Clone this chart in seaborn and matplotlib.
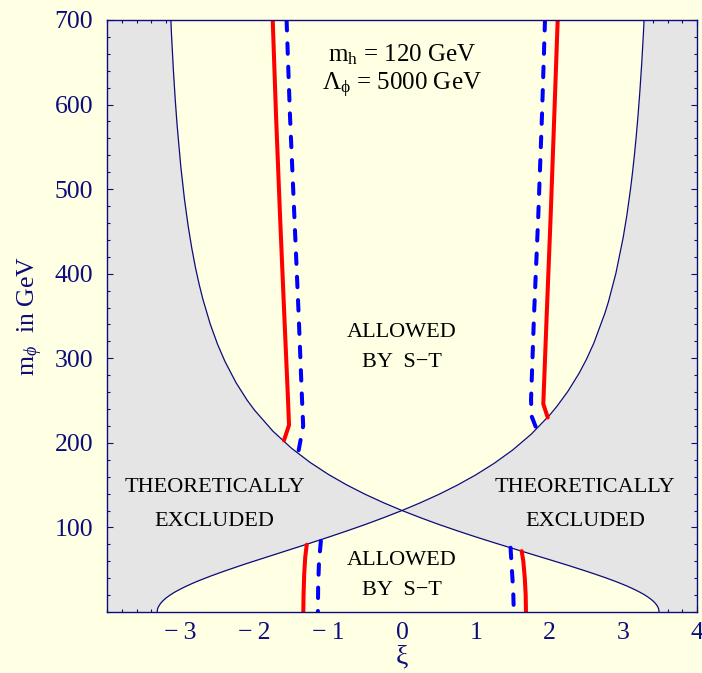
import matplotlib
matplotlib.use("Agg")
import matplotlib.pyplot as plt
import seaborn as sns
from matplotlib.ticker import MultipleLocator, FixedLocator, FixedFormatter

# ---------------- data ----------------
# theoretical boundary, upper branch (m_phi in GeV vs xi)
xi_upper = [-3.15, -3.125, -3.1, -3.075, -3.05, -3.0, -2.95, -2.9, -2.85, -2.8, -2.75, -2.7,
            -2.6, -2.5, -2.4, -2.25, -2.1, -2.0, -1.75, -1.5,
            -1.25, -1.0, -0.75, -0.5, -0.25, 0.0, 0.25, 0.5, 0.75, 1.0, 1.25, 1.5,
            1.75, 2.0, 2.1, 2.25, 2.4, 2.5, 2.6, 2.75, 2.8, 2.9, 3.0, 3.05, 3.1, 3.125,
            3.15, 3.175, 3.2, 3.225, 3.25, 3.275, 3.3]
m_upper = [731.9, 682.1, 640.8, 606.1, 576.3, 527.3, 488.4, 456.6, 430.0, 407.1, 387.3, 369.9,
           340.4, 316.4, 296.2, 271.1, 250.5, 238.7, 213.8, 193.8,
           177.1, 162.8, 150.3, 139.2, 129.2, 120.0, 129.2, 139.1, 150.0, 162.1, 175.8, 191.5,
           210.1, 232.6, 243.1, 261.0, 282.1, 298.6, 317.7, 353.0, 367.1, 400.4, 443.2, 469.7, 501.1, 519.2,
           539.1, 561.5, 586.6, 615.2, 648.1, 686.7, 732.7]

# theoretical boundary, lower branch
xi_lower = [-3.32, -3.315, -3.31, -3.3, -3.275, -3.25, -3.225, -3.2, -3.15, -3.125, -3.1, -3.075,
            -3.05, -3.0, -2.95, -2.9, -2.85, -2.8, -2.75, -2.7, -2.6, -2.5, -2.4,
            -2.25, -2.1, -2.0, -1.75, -1.5, -1.25, -1.0, -0.75, -0.5, -0.25, 0.0, 0.25, 0.5, 0.75,
            1.0, 1.25, 1.5, 1.75, 2.0, 2.1, 2.25, 2.4, 2.5, 2.6, 2.75, 2.8, 2.9, 3.0, 3.05, 3.1,
            3.125, 3.15, 3.175, 3.2, 3.225, 3.25, 3.275, 3.3, 3.35, 3.375, 3.4, 3.425, 3.45,
            3.46, 3.47, 3.48, 3.486]
m_lower = [0.0, 3.3, 4.7, 6.6, 10.0, 12.5, 14.6, 16.5, 19.7, 21.1, 22.5, 23.8,
           25.0, 27.3, 29.5, 31.5, 33.5, 35.4, 37.2, 38.9, 42.3, 45.5, 48.6,
           53.1, 57.5, 60.3, 67.3, 74.3, 81.3, 88.4, 95.8, 103.4, 111.5, 120.0, 111.5, 103.5, 96.0,
           88.8, 81.9, 75.2, 68.5, 61.9, 59.2, 55.2, 51.0, 48.2, 45.3, 40.8, 39.2, 36.0, 32.5, 30.7, 28.7,
           27.7, 26.7, 25.6, 24.5, 23.4, 22.2, 21.0, 19.65, 16.75, 15.1, 13.3, 11.2, 8.6,
           7.3, 5.8, 3.6, 0.0]

# S-T contours, solid red
red_ul_xi = [-1.753, -1.708, -1.654, -1.596, -1.546, -1.532, -1.600]
red_ul_m = [700, 587, 469, 351, 252, 221, 203]
red_ur_xi = [2.111, 2.065, 2.016, 1.962, 1.916, 1.976]
red_ur_m = [700, 587, 469, 351, 246, 230]
red_ll_xi = [-1.292, -1.312, -1.326, -1.335, -1.338]
red_ll_m = [79.5, 65, 45, 20, 0]
red_lr_xi = [1.623, 1.645, 1.665, 1.677, 1.681]
red_lr_m = [72, 60, 40, 20, 0]

# S-T contours, dashed blue
blue_ul_xi = [-1.565, -1.519, -1.460, -1.401, -1.356, -1.340, -1.406]
blue_ul_m = [700, 587, 469, 351, 252, 220, 189]
blue_ur_xi = [1.939, 1.898, 1.848, 1.790, 1.750, 1.755, 1.822]
blue_ur_m = [700, 587, 469, 351, 252, 232, 217]
blue_ll_xi = [-1.100, -1.125, -1.137, -1.140]
blue_ll_m = [84, 60, 30, 0]
blue_lr_xi = [1.472, 1.490, 1.508, 1.516]
blue_lr_m = [76, 50, 25, 0]

x_ticks = [-3, -2, -1, 0, 1, 2, 3, 4]
x_tick_labels = ["\u2212\u20093", "\u2212\u20092", "\u2212\u20091", "0", "1", "2", "3", "4"]
y_ticks = [100, 200, 300, 400, 500, 600, 700]

# ---------------- style ----------------
sns.set_theme(style="ticks")
plt.rcParams["font.family"] = ["Liberation Serif", "DejaVu Serif"]
plt.rcParams["mathtext.fontset"] = "custom"
plt.rcParams["mathtext.rm"] = "Liberation Serif"
plt.rcParams["mathtext.it"] = "Liberation Serif:italic"
plt.rcParams["mathtext.bf"] = "Liberation Serif:bold"

CREAM = "#FFFFE4"
GREY = "#E5E5E5"
NAVY = "#0C0C7A"

fig = plt.figure(figsize=(7.02, 6.73), dpi=100, facecolor=CREAM)
ax = fig.add_axes([107 / 702, 1 - 612 / 673, 590 / 702, 592 / 673])
ax.set_facecolor(GREY)
ax.set_xlim(-4, 4)
ax.set_ylim(0, 700)

# allowed regions (cream) over grey excluded background
ax.fill_between(xi_upper, m_upper, 700, color=CREAM, lw=0, zorder=1)
ax.fill_between(xi_lower, 0, m_lower, color=CREAM, lw=0, zorder=1)

# boundaries
sns.lineplot(x=xi_upper, y=m_upper, ax=ax, color=NAVY, lw=0.9, sort=False, estimator=None, zorder=2)
sns.lineplot(x=xi_lower, y=m_lower, ax=ax, color=NAVY, lw=0.9, sort=False, estimator=None, zorder=2)

# red solid
for xs, ys in [(red_ul_xi, red_ul_m), (red_ur_xi, red_ur_m), (red_ll_xi, red_ll_m), (red_lr_xi, red_lr_m)]:
    sns.lineplot(x=xs, y=ys, ax=ax, color="#FF0000", lw=2.9, sort=False, estimator=None, zorder=3)

# blue dashed
for xs, ys in [(blue_ul_xi, blue_ul_m), (blue_ur_xi, blue_ur_m), (blue_ll_xi, blue_ll_m), (blue_lr_xi, blue_lr_m)]:
    sns.lineplot(x=xs, y=ys, ax=ax, color="#0000FF", lw=2.9, sort=False, estimator=None, zorder=3)
    ln = ax.lines[-1]
    ln.set_linestyle((0, (2.6, 3.2)))
    ln.set_dash_capstyle("round")

# texts
ax.text(0.0, 659, r"m$_{\mathrm{h}}$ = 120 GeV", ha="center", va="center", fontsize=18, color="black", zorder=4)
ax.text(0.0, 623, r"$\mathrm{\Lambda}_{\mathrm{\phi}}$ = 5000 GeV", ha="center", va="center", fontsize=18, color="black", zorder=4)
ax.text(0.0, 331, "ALLOWED", ha="center", va="center", fontsize=16, color="black", zorder=4)
ax.text(0.0, 295, "BY  S\u2212T", ha="center", va="center", fontsize=16, color="black", zorder=4)
ax.text(0.0, 61, "ALLOWED", ha="center", va="center", fontsize=16, color="black", zorder=4)
ax.text(0.0, 25, "BY  S\u2212T", ha="center", va="center", fontsize=16, color="black", zorder=4)
ax.text(-2.54, 147, "THEORETICALLY", ha="center", va="center", fontsize=16, color="black", zorder=4)
ax.text(-2.54, 107, "EXCLUDED", ha="center", va="center", fontsize=16, color="black", zorder=4)
ax.text(2.48, 147, "THEORETICALLY", ha="center", va="center", fontsize=16, color="black", zorder=4)
ax.text(2.48, 107, "EXCLUDED", ha="center", va="center", fontsize=16, color="black", zorder=4)

# axes styling
ax.xaxis.set_major_locator(FixedLocator(x_ticks))
ax.xaxis.set_major_formatter(FixedFormatter(x_tick_labels))
ax.xaxis.set_minor_locator(MultipleLocator(0.2))
ax.yaxis.set_major_locator(FixedLocator(y_ticks))
ax.yaxis.set_minor_locator(MultipleLocator(20))
ax.tick_params(which="both", direction="in", top=True, right=True, colors=NAVY, width=0.8, zorder=5)
ax.tick_params(which="major", length=4.5, labelsize=18.5, labelcolor=NAVY)
ax.tick_params(which="minor", length=2.5)
ax.tick_params(axis="x", which="major", pad=7)
ax.tick_params(axis="y", which="major", pad=10)
for sp in ax.spines.values():
    sp.set_color(NAVY)
    sp.set_linewidth(1.0)
    sp.set_zorder(6)

ax.set_xlabel("\u03be", fontsize=20, color=NAVY)
ax.xaxis.set_label_coords(0.5, -0.055)
ax.set_ylabel(r"m$_{\phi}$  in GeV", fontsize=18.5, color=NAVY)
ax.yaxis.set_label_coords(-0.105, 0.5)

fig.savefig("out.png", dpi=100, facecolor=CREAM)
